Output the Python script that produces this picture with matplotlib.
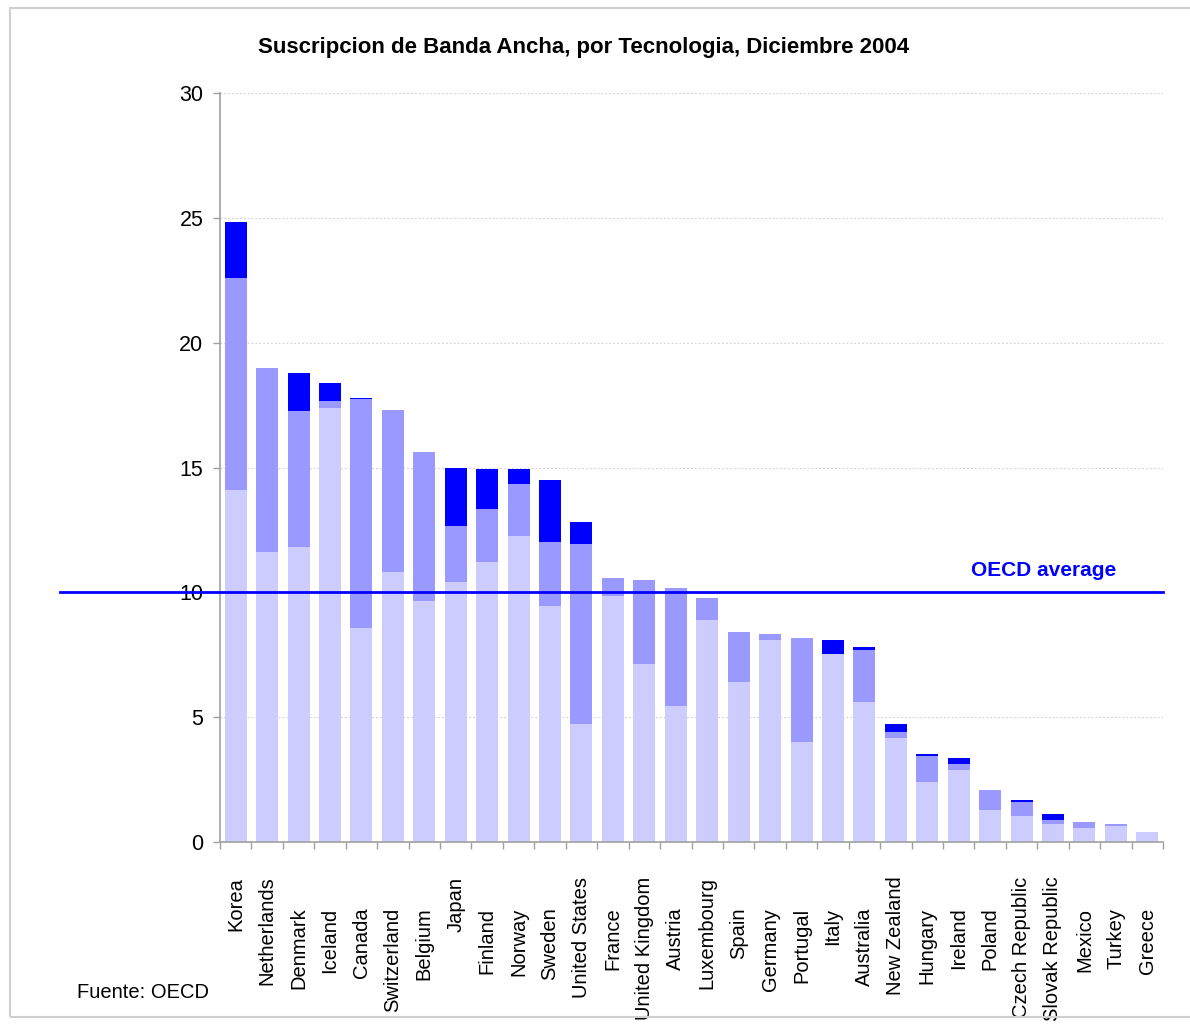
import matplotlib
matplotlib.use("Agg")
from matplotlib import pyplot as plt
from matplotlib.patches import Rectangle
from matplotlib.transforms import ScaledTranslation
import numpy as np

plt.rcParams['font.family'] = ['Liberation Sans', 'DejaVu Sans']

# datos (suscriptores por 100 habitantes)
countries = ['Korea', 'Netherlands', 'Denmark', 'Iceland', 'Canada', 'Switzerland',
             'Belgium', 'Japan', 'Finland', 'Norway', 'Sweden', 'United States',
             'France', 'United Kingdom', 'Austria', 'Luxembourg', 'Spain', 'Germany',
             'Portugal', 'Italy', 'Australia', 'New Zealand', 'Hungary', 'Ireland',
             'Poland', 'Czech Republic', 'Slovak Republic', 'Mexico', 'Turkey', 'Greece']
dsl = [14.1, 11.6, 11.8, 17.4, 8.57, 10.8, 9.65, 10.4, 11.2, 12.25, 9.45, 4.73,
       9.86, 7.14, 5.45, 8.9, 6.42, 8.1, 4.0, 7.54, 5.62, 4.15, 2.4, 2.88,
       1.28, 1.04, 0.72, 0.56, 0.64, 0.40]
cable = [8.5, 7.4, 5.45, 0.25, 9.16, 6.5, 5.98, 2.25, 2.15, 2.1, 2.58, 7.22,
         0.72, 3.35, 4.72, 0.87, 1.99, 0.24, 4.17, 0.0, 2.07, 0.24, 1.03, 0.23,
         0.8, 0.55, 0.16, 0.24, 0.08, 0.0]
other = [2.24, 0.0, 1.52, 0.74, 0.06, 0.0, 0.0, 2.32, 1.6, 0.57, 2.47, 0.88,
         0.0, 0.0, 0.0, 0.0, 0.0, 0.0, 0.0, 0.55, 0.11, 0.35, 0.09, 0.25,
         0.0, 0.09, 0.24, 0.0, 0.0, 0.0]
oecd_average = 10
yticks = [0, 5, 10, 15, 20, 25, 30]

# etiquetas que van mas arriba (las largas, para que no se corten)
raised = ['Korea', 'Netherlands', 'Japan', 'United States', 'United Kingdom',
          'Luxembourg', 'New Zealand', 'Czech Republic', 'Slovak Republic']

fig = plt.figure(figsize=(11.9, 10.25), dpi=100)
ax = fig.add_axes([220 / 1190, 1 - 842 / 1025, 943 / 1190, 749 / 1025])

x = np.arange(len(countries))
dsl_a = np.array(dsl)
cable_a = np.array(cable)
other_a = np.array(other)
ax.bar(x, dsl_a, 0.7, color='#ccccff', zorder=2)
ax.bar(x, cable_a, 0.7, bottom=dsl_a, color='#9999ff', zorder=2)
ax.bar(x, other_a, 0.7, bottom=dsl_a + cable_a, color='#0000ff', zorder=2)

ax.set_xlim(-0.5, len(countries) - 0.5)
ax.set_ylim(0, 30)
ax.set_yticks(yticks)
ax.yaxis.grid(True, color='#d0d0d0', linestyle=(0, (1.5, 2)), linewidth=0.8, zorder=0)
for s in ['top', 'right']:
	ax.spines[s].set_visible(False)
for s in ['left', 'bottom']:
	ax.spines[s].set_color('#a0a0a0')
	ax.spines[s].set_linewidth(1.2)
ax.tick_params(axis='y', length=5, width=1, color='#a0a0a0', pad=7, labelsize=15.5)

ax.set_xticks(x)
ax.set_xticks(np.arange(len(countries) + 1) - 0.5, minor=True)
ax.set_xticklabels(countries, rotation=90, va='top', ha='center', fontsize=14.5)
ax.tick_params(axis='x', which='major', length=0, pad=25)
ax.tick_params(axis='x', which='minor', length=5, width=1, color='#a0a0a0')

# desplazar hacia abajo las etiquetas cortas
down = ScaledTranslation(0, -0.31, fig.dpi_scale_trans)
for lab in ax.get_xticklabels():
	if lab.get_text() not in raised:
		lab.set_transform(lab.get_transform() + down)

# linea del promedio OECD
ax.axhline(oecd_average, xmin=-160 / 943, xmax=1, color='#0000ff', linewidth=2,
           clip_on=False, zorder=3)
ax.text(0.873, oecd_average + 0.5, 'OECD average', transform=ax.get_yaxis_transform(),
        ha='center', va='bottom', fontsize=15, fontweight='bold', color='#0000ff')

fig.text(584 / 1190, 1 - 47 / 1025, 'Suscripcion de Banda Ancha, por Tecnologia, Diciembre 2004',
         ha='center', va='center', fontsize=16, fontweight='bold')
fig.text(77 / 1190, 1 - 993 / 1025, 'Fuente: OECD', ha='left', va='center', fontsize=14.5)

# marco gris del grafico
fig.patches.append(Rectangle((10 / 1190, 1 - 1017 / 1025), 1.05, 1009 / 1025,
                             transform=fig.transFigure, fill=False,
                             edgecolor='#d0d0d0', linewidth=1.5))

fig.savefig('out.png', dpi=100)
